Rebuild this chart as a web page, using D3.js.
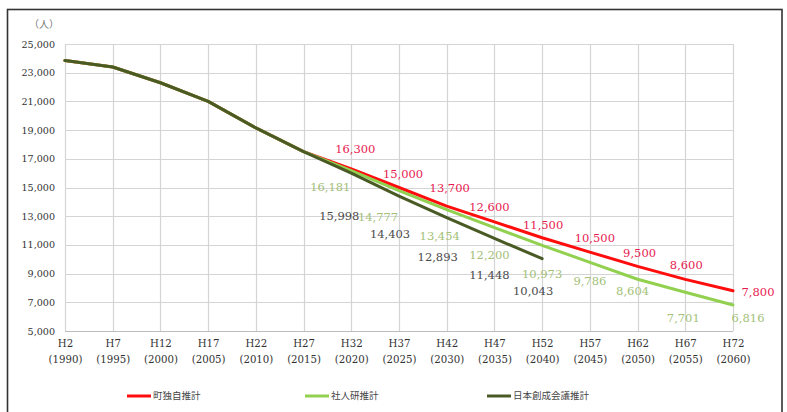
<!DOCTYPE html>
<html>
<head>
<meta charset="utf-8">
<script src="https://cdn.jsdelivr.net/npm/d3@7"></script>
<style>
  html, body { margin: 0; padding: 0; background: #fff; }
  svg { display: block; }
</style>
</head>
<body>
<svg id="chart" width="787" height="412"></svg>
<script>
// Census years and their Heisei-era names
const eras = ["H2","H7","H12","H17","H22","H27","H32","H37","H42","H47","H52","H57","H62","H67","H72"];
const years = [1990,1995,2000,2005,2010,2015,2020,2025,2030,2035,2040,2045,2050,2055,2060];

// Population (persons): recorded values up to H27, then the three projections
const recorded = [23850, 23400, 22300, 21000, 19150, 17500];
const townProjection = [16300, 15000, 13700, 12600, 11500, 10500, 9500, 8600, 7800];
const ipssProjection = [16181, 14777, 13454, 12200, 10973, 9786, 8604, 7701, 6816];
const jpcProjection = [15998, 14403, 12893, 11448, 10043];

const seriesNames = ["町独自推計", "社人研推計", "日本創成会議推計"];
const yTicks = [5000, 7000, 9000, 11000, 13000, 15000, 17000, 19000, 21000, 23000, 25000];

// ---- layout ----
const svg = d3.select("#chart");
const plot = { left: 65, right: 733, top: 44, bottom: 331 };

const x = d3.scalePoint().domain(d3.range(eras.length)).range([plot.left, plot.right]);
const y = d3.scaleLinear().domain([5000, 25000]).range([plot.bottom, plot.top]);

// outer frame
svg.append("rect")
  .attr("x", 7.5).attr("y", 9.5).attr("width", 774.5).attr("height", 420)
  .attr("fill", "#fff").attr("stroke", "#333").attr("stroke-width", 1.6);

// grid
const grid = svg.append("g");
grid.selectAll("line.h").data(yTicks).join("line")
  .attr("x1", plot.left).attr("x2", plot.right)
  .attr("y1", d => Math.round(y(d)) + 0.5).attr("y2", d => Math.round(y(d)) + 0.5)
  .attr("stroke", "#d4d4d4").attr("stroke-width", 1.2);
grid.selectAll("line.v").data(d3.range(eras.length)).join("line")
  .attr("y1", plot.top).attr("y2", plot.bottom)
  .attr("x1", d => Math.round(x(d)) + 0.5).attr("x2", d => Math.round(x(d)) + 0.5)
  .attr("stroke", "#d4d4d4").attr("stroke-width", 1.2);
grid.append("line")
  .attr("x1", plot.left).attr("x2", plot.right)
  .attr("y1", Math.round(y(5000)) + 0.5).attr("y2", Math.round(y(5000)) + 0.5)
  .attr("stroke", "#bdbdbd").attr("stroke-width", 1.2);

// y axis
const yAxis = d3.axisLeft(y).tickValues(yTicks).tickFormat(d3.format(",")).tickSize(0).tickPadding(10);
const yg = svg.append("g").attr("transform", `translate(${plot.left},0)`).call(yAxis);
yg.select(".domain").remove();
yg.selectAll("text")
  .attr("font-family", "DejaVu Serif").attr("font-size", 9.6).attr("fill", "#333");

svg.append("text").attr("x", 44).attr("y", 28).attr("text-anchor", "middle")
  .attr("font-family", "Noto Sans CJK JP").attr("font-size", 10).attr("fill", "#777")
  .text("（人）");

// x axis (two-line labels)
const xAxis = d3.axisBottom(x).tickSize(0).tickFormat(() => "");
const xg = svg.append("g").attr("transform", `translate(0,${plot.bottom})`).call(xAxis);
xg.select(".domain").remove();
xg.selectAll(".tick").each(function(i) {
  const t = d3.select(this).append("text")
    .attr("text-anchor", "middle").attr("font-family", "DejaVu Serif")
    .attr("font-size", 10.2).attr("fill", "#333");
  t.append("tspan").attr("x", 0).attr("y", 16).text(eras[i]);
  t.append("tspan").attr("x", 0).attr("y", 32).text(`(${years[i]})`);
});

// build full series (recorded part + projection)
const startIdx = recorded.length;
function build(proj) {
  const arr = recorded.map((v, i) => ({ i, v }));
  proj.forEach((v, k) => arr.push({ i: startIdx + k, v }));
  return arr;
}
const series = [
  { name: seriesNames[0], pts: build(townProjection), proj: townProjection, line: "#ff0d0d", label: "#e8194f" },
  { name: seriesNames[1], pts: build(ipssProjection), proj: ipssProjection, line: "#92d050", label: "#a3bf78" },
  { name: seriesNames[2], pts: build(jpcProjection), proj: jpcProjection, line: "#4a5a24", label: "#4a4a4a" }
];

const line = d3.line().x(d => x(d.i)).y(d => y(d.v));
series.forEach(s => {
  svg.append("path").datum(s.pts)
    .attr("d", line).attr("fill", "none")
    .attr("stroke", s.line).attr("stroke-width", 3)
    .attr("stroke-linejoin", "round").attr("stroke-linecap", "round");
});

// label nudges (px, relative to the point) for each projection's value labels
const labelNudge = [
  [[4,-20],[4,-14],[3,-18],[-5,-15],[1,-13],[5,-14],[2,-13],[1,-14],[25,1]],
  [[-21,16],[-21,26],[-7,26],[-5,27],[0,29],[0,19],[-5,12],[-2,26],[15,13]],
  [[-12,43],[-9,38],[-9,39],[-5,37],[-9,32]]
];
const fmt = d3.format(",");
series.forEach((s, si) => {
  svg.append("g").selectAll("text").data(s.proj).join("text")
    .attr("x", (v, k) => x(startIdx + k) + labelNudge[si][k][0])
    .attr("y", (v, k) => y(v) + labelNudge[si][k][1])
    .attr("dy", "0.35em")
    .attr("text-anchor", "middle")
    .attr("font-family", "DejaVu Serif").attr("font-size", 11.5)
    .attr("fill", s.label)
    .text(v => fmt(v));
});

// legend
const legendX = [127, 305, 487];
const lg = svg.append("g");
series.forEach((s, si) => {
  const g = lg.append("g").attr("transform", `translate(${legendX[si]},396)`);
  g.append("line").attr("x1", 0).attr("x2", 24).attr("y1", 0).attr("y2", 0)
    .attr("stroke", s.line).attr("stroke-width", 3);
  g.append("text").attr("x", 26).attr("y", 0).attr("dy", "0.35em")
    .attr("font-family", "Noto Sans CJK JP").attr("font-size", 9.5).attr("fill", "#444")
    .text(s.name);
});
</script>
</body>
</html>
